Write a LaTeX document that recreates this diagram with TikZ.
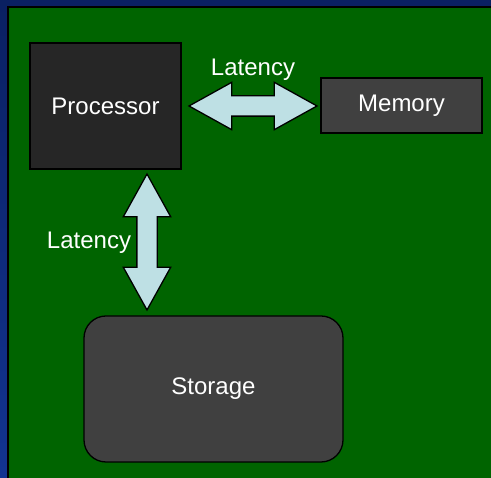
\documentclass[tikz,border=0pt]{standalone}
\usepackage{fontspec}
\setmainfont{Liberation Sans}
\usetikzlibrary{shapes.arrows}
\definecolor{navytop}{RGB}{10,32,98}
\definecolor{navybot}{RGB}{18,52,145}
\definecolor{board}{RGB}{0,100,0}
\definecolor{cpugray}{RGB}{38,38,38}
\definecolor{boxgray}{RGB}{64,64,64}
\definecolor{lightblue}{RGB}{190,224,228}
\tikzset{
  unit/.style={draw=black, line width=1.3pt, text=white, font=\fontsize{24}{26}\selectfont},
  latarrow/.style={shape=double arrow, draw=black, line width=1.3pt, fill=lightblue,
    inner xsep=0pt, inner ysep=9.5pt, double arrow head extend=13.5pt, minimum width=46pt,
    double arrow tip angle=58},
  lbl/.style={text=white, font=\fontsize{24}{26}\selectfont}
}
\begin{document}
\begin{tikzpicture}[x=1pt, y=1pt]
  \useasboundingbox (0,0) rectangle (491,478);
  \shade[top color=navytop, bottom color=navybot] (0,0) rectangle (491,478);
  \fill[board] (7.5,0) rectangle (491,470.5);
  \draw[line width=2pt] (7.5,0) -- (7.5,470.5) -- (491,470.5);
  % units
  \node[unit, fill=cpugray, minimum width=151pt, minimum height=126pt] (proc) at (105.5,372) {Processor};
  \node[unit, fill=boxgray, minimum width=161pt, minimum height=55pt] (mem) at (401.5,372.5) {Memory};
  \node[unit, fill=boxgray, rounded corners=22pt, minimum width=259pt, minimum height=146pt] (stor) at (213.5,89) {Storage};
  % latencies
  \node[latarrow, minimum height=128pt] (pm) at (253,372) {};
  \node[lbl] (pmlat) at (253,408) {Latency};
  \node[latarrow, minimum height=136pt, rotate=90] (ps) at (147,236) {};
  \node[lbl] (pslat) at (89,235) {Latency};
\end{tikzpicture}
\end{document}
